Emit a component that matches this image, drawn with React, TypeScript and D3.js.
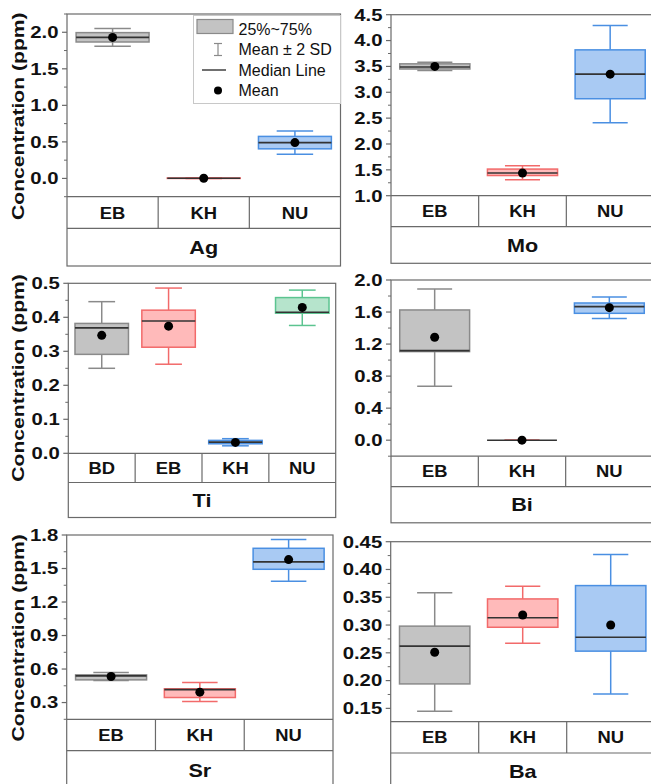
import React from "react";
import * as d3 from "d3";

// ---- data: each stat row = [whiskerLow, q1, median, q3, whiskerHigh, mean]
const agCats = ["EB", "KH", "NU"];
const agColors = ["gray", "red", "blue"];
const agStats = [
  [1.81, 1.867, 1.93, 1.995, 2.05, 1.93],
  [0, 0, 0.002, 0.006, 0.008, 0.003],
  [0.33, 0.405, 0.49, 0.575, 0.65, 0.49],
];
const agTicks = [0, 0.5, 1.0, 1.5, 2.0];

const moCats = ["EB", "KH", "NU"];
const moColors = ["gray", "red", "blue"];
const moStats = [
  [3.42, 3.45, 3.49, 3.55, 3.58, 3.5],
  [1.31, 1.39, 1.44, 1.515, 1.58, 1.44],
  [2.41, 2.875, 3.35, 3.82, 4.29, 3.35],
];
const moTicks = [1.0, 1.5, 2.0, 2.5, 3.0, 3.5, 4.0, 4.5];

const tiCats = ["BD", "EB", "KH", "NU"];
const tiColors = ["gray", "red", "blue", "green"];
const tiStats = [
  [0.25, 0.291, 0.369, 0.382, 0.446, 0.347],
  [0.262, 0.312, 0.389, 0.421, 0.486, 0.374],
  [0.022, 0.028, 0.033, 0.038, 0.043, 0.032],
  [0.376, 0.412, 0.415, 0.458, 0.48, 0.429],
];
const tiTicks = [0.0, 0.1, 0.2, 0.3, 0.4, 0.5];

const biCats = ["EB", "KH", "NU"];
const biColors = ["gray", "red", "blue"];
const biStats = [
  [0.674, 1.106, 1.118, 1.626, 1.888, 1.285],
  [0, 0, 0, 0, 0, 0],
  [1.52, 1.584, 1.667, 1.713, 1.788, 1.655],
];
const biTicks = [0.0, 0.4, 0.8, 1.2, 1.6, 2.0];

const srCats = ["EB", "KH", "NU"];
const srColors = ["gray", "red", "blue"];
const srStats = [
  [0.497, 0.503, 0.539, 0.548, 0.568, 0.533],
  [0.309, 0.345, 0.416, 0.423, 0.479, 0.393],
  [1.386, 1.493, 1.559, 1.681, 1.76, 1.58],
];
const srTicks = [0.3, 0.6, 0.9, 1.2, 1.5, 1.8];

const baCats = ["EB", "KH", "NU"];
const baColors = ["gray", "red", "blue"];
const baStats = [
  [0.145, 0.194, 0.262, 0.298, 0.358, 0.251],
  [0.267, 0.296, 0.313, 0.347, 0.37, 0.318],
  [0.176, 0.253, 0.278, 0.371, 0.427, 0.30],
];
const baTicks = [0.15, 0.2, 0.25, 0.3, 0.35, 0.4, 0.45];

const legendLabels = ["25%~75%", "Mean \u00b1 2 SD", "Median Line", "Mean"];
const yTitle = "Concentration (ppm)";

const PALETTE: Record<string, { fill: string; stroke: string }> = {
  gray: { fill: "#c3c3c3", stroke: "#8a8a8a" },
  red: { fill: "#ffbaba", stroke: "#f26a6a" },
  blue: { fill: "#a9caf3", stroke: "#4a8fe2" },
  green: { fill: "#b6e4cc", stroke: "#5cc490" },
};

const FONT = "'Liberation Sans', Arial, sans-serif";
const FRAME = "#6a6a6a";

function SText(props: any) {
  const { x, y, size, weight = "bold", anchor = "middle", sx = 1.25, rot = 0, children, fill = "#111" } = props;
  return (
    <text
      transform={`translate(${x},${y}) rotate(${rot}) scale(${sx},1)`}
      fontFamily={FONT}
      fontSize={size}
      fontWeight={weight}
      textAnchor={anchor}
      fill={fill}
    >
      {children}
    </text>
  );
}

type PanelProps = {
  name: string;
  cats: string[];
  colors: string[];
  stats: number[][];
  ticks: number[];
  fmt: string;
  domain: [number, number];
  left: number;
  right: number;
  top: number;
  plotBottom: number;
  catBottom: number;
  elemBottom: number;
  showTitle: boolean;
};

function Panel(p: PanelProps) {
  const y = d3.scaleLinear().domain(p.domain).range([p.plotBottom, p.top]);
  const x = d3.scaleBand().domain(p.cats).range([p.left, p.right]).paddingInner(0).paddingOuter(0);
  const bw = x.bandwidth();
  const f = d3.format(p.fmt);
  const step = p.ticks[1] - p.ticks[0];
  const minor: number[] = [];
  for (let i = 0; i < p.ticks.length; i++) {
    const m = p.ticks[i] + step / 2;
    if (m <= p.domain[1] + 1e-9) minor.push(m);
    const mb = p.ticks[i] - step / 2;
    if (i === 0 && mb >= p.domain[0] - 1e-9) minor.push(mb);
  }
  return (
    <g>
      {/* frames */}
      <rect x={p.left} y={p.top} width={p.right - p.left} height={p.elemBottom - p.top} fill="none" stroke={FRAME} strokeWidth={1.2} />
      <line x1={p.left} x2={p.right} y1={p.plotBottom} y2={p.plotBottom} stroke={FRAME} strokeWidth={1.2} />
      <line x1={p.left} x2={p.right} y1={p.catBottom} y2={p.catBottom} stroke={FRAME} strokeWidth={1.2} />
      {p.cats.slice(1).map((c) => (
        <line key={c} x1={x(c)} x2={x(c)} y1={p.plotBottom} y2={p.catBottom} stroke={FRAME} strokeWidth={1.2} />
      ))}
      {/* ticks */}
      {p.ticks.map((t) => (
        <g key={t}>
          <line x1={p.left - 5} x2={p.left} y1={y(t)} y2={y(t)} stroke={FRAME} strokeWidth={1.2} />
          <SText x={p.left - 8.5} y={y(t) + 5.8} size={16} anchor="end" sx={1.27}>
            {f(t)}
          </SText>
        </g>
      ))}
      {minor.map((t) => (
        <line key={"m" + t} x1={p.left - 3} x2={p.left} y1={y(t)} y2={y(t)} stroke={FRAME} strokeWidth={1} />
      ))}
      {/* boxes */}
      {p.stats.map((s, i) => {
        const c = p.cats[i];
        const cx = (x(c) as number) + bw / 2;
        const pal = PALETTE[p.colors[i]];
        const boxW = bw * 0.8;
        const capW = bw * 0.4;
        const [lo, q1, med, q3, hi, mean] = s;
        return (
          <g key={c}>
            <line x1={cx} x2={cx} y1={y(hi)} y2={y(q3)} stroke={pal.stroke} strokeWidth={1.5} />
            <line x1={cx} x2={cx} y1={y(q1)} y2={y(lo)} stroke={pal.stroke} strokeWidth={1.5} />
            <line x1={cx - capW / 2} x2={cx + capW / 2} y1={y(hi)} y2={y(hi)} stroke={pal.stroke} strokeWidth={1.5} />
            <line x1={cx - capW / 2} x2={cx + capW / 2} y1={y(lo)} y2={y(lo)} stroke={pal.stroke} strokeWidth={1.5} />
            <rect x={cx - boxW / 2} y={y(q3)} width={boxW} height={Math.max(0, y(q1) - y(q3))} fill={pal.fill} stroke={pal.stroke} strokeWidth={1.5} />
            <line x1={cx - boxW / 2} x2={cx + boxW / 2} y1={y(med)} y2={y(med)} stroke="#333" strokeWidth={1.6} />
            <circle cx={cx} cy={y(mean)} r={4.5} fill="#000" />
          </g>
        );
      })}
      {/* category labels */}
      {p.cats.map((c) => (
        <SText key={"t" + c} x={(x(c) as number) + bw / 2} y={(p.plotBottom + p.catBottom) / 2 + 6} size={16} sx={1.15}>
          {c}
        </SText>
      ))}
      <SText x={(p.left + p.right) / 2} y={(p.catBottom + p.elemBottom) / 2 + 6.5} size={18} sx={1.2}>
        {p.name}
      </SText>
      {p.showTitle && (
        <SText x={24} y={(p.top + p.catBottom) / 2 - 5} size={16} rot={-90} sx={1.32}>
          {yTitle}
        </SText>
      )}
    </g>
  );
}

function Legend() {
  const lx = 193.5, ly = 15.5, lw = 340.5 - 193.5, lh = 88;
  const rows = [29, 49.5, 70, 90.5];
  const sx = 218;
  const pal = PALETTE.gray;
  return (
    <g>
      <rect x={lx} y={ly} width={lw} height={lh} fill="#fff" stroke="#c8c8c8" strokeWidth={1} />
      <rect x={197} y={19.5} width={36} height={14} fill={pal.fill} stroke={pal.stroke} strokeWidth={1.2} />
      <line x1={sx} x2={sx} y1={rows[1] - 6} y2={rows[1] + 6} stroke={pal.stroke} strokeWidth={1.2} />
      <line x1={sx - 4} x2={sx + 4} y1={rows[1] - 6} y2={rows[1] - 6} stroke={pal.stroke} strokeWidth={1.2} />
      <line x1={sx - 4} x2={sx + 4} y1={rows[1] + 6} y2={rows[1] + 6} stroke={pal.stroke} strokeWidth={1.2} />
      <line x1={202} x2={226} y1={rows[2]} y2={rows[2]} stroke="#333" strokeWidth={1.4} />
      <circle cx={sx} cy={rows[3]} r={4} fill="#000" />
      {legendLabels.map((l, i) => (
        <SText key={l} x={238.5} y={rows[i] + 5.8} size={16} weight="normal" anchor="start" sx={1}>
          {l}
        </SText>
      ))}
    </g>
  );
}

export default function App() {
  return (
    <svg width={651} height={784} style={{ position: "absolute", left: 0, top: 0, background: "#fff" }}>
      <Panel name="Ag" cats={agCats} colors={agColors} stats={agStats} ticks={agTicks} fmt=".1f" domain={[-0.25, 2.25]}
        left={67} right={340.5} top={14} plotBottom={196.7} catBottom={228.3} elemBottom={266} showTitle={true} />
      <Panel name="Mo" cats={moCats} colors={moColors} stats={moStats} ticks={moTicks} fmt=".1f" domain={[1.0, 4.5]}
        left={391} right={654} top={14.7} plotBottom={195.7} catBottom={226.7} elemBottom={263.3} showTitle={false} />
      <Panel name="Ti" cats={tiCats} colors={tiColors} stats={tiStats} ticks={tiTicks} fmt=".1f" domain={[0, 0.5]}
        left={68.3} right={335.7} top={283.3} plotBottom={453.3} catBottom={482.5} elemBottom={517.5} showTitle={true} />
      <Panel name="Bi" cats={biCats} colors={biColors} stats={biStats} ticks={biTicks} fmt=".1f" domain={[-0.2, 2.0]}
        left={391} right={653} top={280} plotBottom={456.2} catBottom={486.7} elemBottom={522.8} showTitle={false} />
      <Panel name="Sr" cats={srCats} colors={srColors} stats={srStats} ticks={srTicks} fmt=".1f" domain={[0.15, 1.8]}
        left={66.7} right={333} top={535} plotBottom={719.3} catBottom={750.7} elemBottom={790} showTitle={true} />
      <Panel name="Ba" cats={baCats} colors={baColors} stats={baStats} ticks={baTicks} fmt=".2f" domain={[0.126, 0.45]}
        left={390.7} right={654.7} top={541.7} plotBottom={721.7} catBottom={753} elemBottom={790} showTitle={false} />
      <Legend />
    </svg>
  );
}
